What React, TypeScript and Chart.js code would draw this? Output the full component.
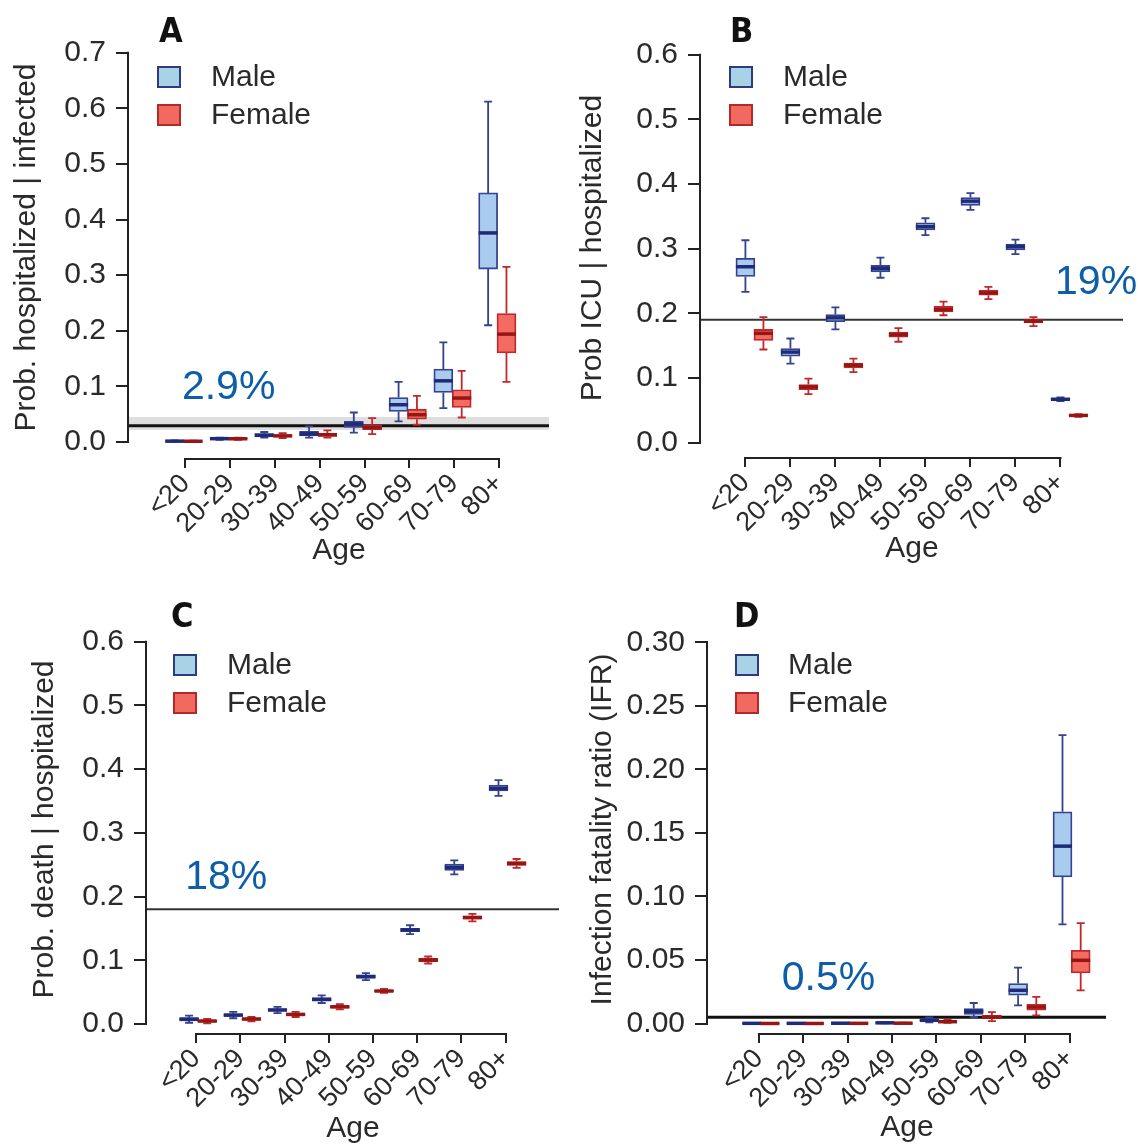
import { useEffect, useRef } from "react";
import { Chart, registerables } from "chart.js";

Chart.register(...registerables);

const FONT = "'Liberation Sans', Arial, Helvetica, sans-serif";
const TEXT = "#2a2a2a";

const ageGroups = ["<20", "20-29", "30-39", "40-49", "50-59", "60-69", "70-79", "80+"];

// Each entry: [lower whisker, Q1, median, Q3, upper whisker]
const hospMale = [
  [0.0005, 0.001, 0.0015, 0.002, 0.0028],
  [0.004, 0.005, 0.006, 0.007, 0.008],
  [0.008, 0.01, 0.012, 0.015, 0.018],
  [0.008, 0.011, 0.0145, 0.019, 0.028],
  [0.017, 0.026, 0.032, 0.037, 0.053],
  [0.037, 0.055, 0.067, 0.08, 0.108],
  [0.061, 0.089, 0.11, 0.131, 0.179],
  [0.21, 0.311, 0.376, 0.448, 0.612],
];
const hospFemale = [
  [0.0005, 0.001, 0.0013, 0.0018, 0.0025],
  [0.004, 0.005, 0.0058, 0.0068, 0.0078],
  [0.007, 0.009, 0.011, 0.013, 0.016],
  [0.008, 0.01, 0.013, 0.016, 0.021],
  [0.014, 0.022, 0.026, 0.031, 0.043],
  [0.031, 0.041, 0.049, 0.059, 0.083],
  [0.044, 0.062, 0.079, 0.094, 0.128],
  [0.108, 0.16, 0.194, 0.231, 0.315],
];

const icuMale = [
  [0.233, 0.257, 0.272, 0.285, 0.313],
  [0.122, 0.1336, 0.14, 0.1455, 0.161],
  [0.175, 0.187, 0.193, 0.198, 0.209],
  [0.255, 0.264, 0.269, 0.274, 0.286],
  [0.321, 0.329, 0.334, 0.34, 0.347],
  [0.36, 0.367, 0.3735, 0.379, 0.386],
  [0.2915, 0.298, 0.303, 0.307, 0.314],
  [0.064, 0.0655, 0.067, 0.0685, 0.07],
];
const icuFemale = [
  [0.144, 0.158, 0.169, 0.175, 0.194],
  [0.075, 0.082, 0.086, 0.0898, 0.099],
  [0.109, 0.1155, 0.1197, 0.123, 0.13],
  [0.156, 0.163, 0.167, 0.171, 0.177],
  [0.197, 0.202, 0.206, 0.211, 0.218],
  [0.222, 0.228, 0.2316, 0.236, 0.241],
  [0.18, 0.185, 0.188, 0.191, 0.194],
  [0.04, 0.041, 0.042, 0.043, 0.044],
];

const deathMale = [
  [0.002, 0.005, 0.0074, 0.01, 0.013],
  [0.009, 0.012, 0.014, 0.016, 0.019],
  [0.017, 0.02, 0.022, 0.024, 0.027],
  [0.033, 0.036, 0.0388, 0.041, 0.045],
  [0.069, 0.072, 0.0743, 0.077, 0.08],
  [0.141, 0.145, 0.1476, 0.15, 0.155],
  [0.235, 0.241, 0.246, 0.251, 0.257],
  [0.358, 0.366, 0.37, 0.375, 0.383],
];
const deathFemale = [
  [0.001, 0.003, 0.0047, 0.006, 0.008],
  [0.004, 0.006, 0.0078, 0.0095, 0.011],
  [0.011, 0.013, 0.015, 0.017, 0.019],
  [0.023, 0.025, 0.027, 0.029, 0.031],
  [0.049, 0.0505, 0.0518, 0.053, 0.055],
  [0.095, 0.098, 0.1005, 0.103, 0.106],
  [0.161, 0.165, 0.167, 0.17, 0.173],
  [0.245, 0.249, 0.252, 0.255, 0.259],
];

const ifrMale = [
  [0, 0.0001, 0.0002, 0.0003, 0.0005],
  [0, 0.0001, 0.0002, 0.0003, 0.0005],
  [0.0001, 0.0002, 0.0003, 0.0004, 0.0006],
  [0.0002, 0.0004, 0.0006, 0.0008, 0.001],
  [0.001, 0.0018, 0.0026, 0.0035, 0.0048],
  [0.0052, 0.0073, 0.0097, 0.0118, 0.0162],
  [0.0144, 0.0223, 0.0262, 0.0315, 0.044],
  [0.078, 0.1154, 0.1396, 0.1666, 0.227],
];
const ifrFemale = [
  [0, 0.0001, 0.0001, 0.0002, 0.0003],
  [0, 0.0001, 0.0001, 0.0002, 0.0004],
  [0.0001, 0.0002, 0.0002, 0.0003, 0.0005],
  [0.0001, 0.0002, 0.0003, 0.0005, 0.0007],
  [0.0005, 0.001, 0.0015, 0.002, 0.003],
  [0.002, 0.004, 0.005, 0.0065, 0.009],
  [0.0065, 0.0105, 0.013, 0.0152, 0.021],
  [0.0262, 0.0398, 0.0498, 0.0577, 0.079],
];

const hospTicks = [0, 0.1, 0.2, 0.3, 0.4, 0.5, 0.6, 0.7];
const icuTicks = [0, 0.1, 0.2, 0.3, 0.4, 0.5, 0.6];
const deathTicks = [0, 0.1, 0.2, 0.3, 0.4, 0.5, 0.6];
const ifrTicks = [0, 0.05, 0.1, 0.15, 0.2, 0.25, 0.3];

// Overall estimates (all ages, both sexes)
const hospOverall = 0.029;
const hospOverallBand = [0.0216, 0.045];
const icuOverall = 0.19;
const deathOverall = 0.18;
const ifrOverall = 0.005;

const sexLabels = ["Male", "Female"];

const MALE = { fill: "#a9cbee", border: "#34428f", median: "#1f2a78", swatch: "#a8d3e6", swatchBorder: "#2f3a80" };
const FEMALE = { fill: "#f26c61", border: "#c0282a", median: "#961616", swatch: "#f26a5f", swatchBorder: "#b02a2a" };

type PanelSpec = {
  letter: string;
  yTitle: string;
  male: number[][];
  female: number[][];
  yTicks: number[];
  decimals: number;
  overall: number;
  band?: number[];
  overallLabel: string;
  overallWidth: number;
  overallColor: string;
  labelAt: { x: number; y: number };
  frame: { left: number; top: number; w: number; h: number };
  area: { left: number; right: number; top: number; bottom: number };
  yRange: [number, number];
  xRange: [number, number];
  offsets: [number, number];
  yTitlePad: number;
  xTitlePad: number;
  legend: { x: number; y: number; textX: number };
  letterPos: { x: number; y: number };
};

const panels: PanelSpec[] = [
  {
    letter: "A",
    yTitle: "Prob. hospitalized | infected",
    male: hospMale,
    female: hospFemale,
    yTicks: hospTicks,
    decimals: 1,
    overall: hospOverall,
    band: hospOverallBand,
    overallLabel: "2.9%",
    overallWidth: 3,
    overallColor: "#111",
    labelAt: { x: -0.08, y: 0.097 },
    frame: { left: 0, top: 0, w: 570, h: 575 },
    area: { left: 129, right: 549, top: 37, bottom: 458 },
    yRange: [-0.0288, 0.7284],
    xRange: [-1.262, 8.12],
    offsets: [-0.24, 0.17],
    yTitlePad: 12,
    xTitlePad: 9,
    legend: { x: 158, y: 67, textX: 211 },
    letterPos: { x: 159, y: 42 },
  },
  {
    letter: "B",
    yTitle: "Prob ICU | hospitalized",
    male: icuMale,
    female: icuFemale,
    yTicks: icuTicks,
    decimals: 1,
    overall: icuOverall,
    overallLabel: "19%",
    overallWidth: 2,
    overallColor: "#333",
    labelAt: { x: 6.88, y: 0.2466 },
    frame: { left: 570, top: 0, w: 568, h: 575 },
    area: { left: 131, right: 553, top: 39, bottom: 457 },
    yRange: [-0.0223, 0.6243],
    xRange: [-0.987, 8.39],
    offsets: [0, 0.4],
    yTitlePad: 7.7,
    xTitlePad: 11,
    legend: { x: 160, y: 67, textX: 213 },
    letterPos: { x: 160, y: 42 },
  },
  {
    letter: "C",
    yTitle: "Prob. death | hospitalized",
    male: deathMale,
    female: deathFemale,
    yTicks: deathTicks,
    decimals: 1,
    overall: deathOverall,
    overallLabel: "18%",
    overallWidth: 2,
    overallColor: "#333",
    labelAt: { x: -0.247, y: 0.229 },
    frame: { left: 0, top: 575, w: 570, h: 570 },
    area: { left: 147, right: 559, top: 51, bottom: 458 },
    yRange: [-0.01413, 0.6248],
    xRange: [-1.112, 8.209],
    offsets: [-0.16, 0.25],
    yTitlePad: 29.5,
    xTitlePad: 1,
    legend: { x: 174, y: 80, textX: 227 },
    letterPos: { x: 171, y: 52 },
  },
  {
    letter: "D",
    yTitle: "Infection fatality ratio (IFR)",
    male: ifrMale,
    female: ifrFemale,
    yTicks: ifrTicks,
    decimals: 2,
    overall: ifrOverall,
    overallLabel: "0.5%",
    overallWidth: 3,
    overallColor: "#111",
    labelAt: { x: 0.516, y: 0.0357 },
    frame: { left: 570, top: 575, w: 568, h: 570 },
    area: { left: 138, right: 536, top: 51, bottom: 458 },
    yRange: [-0.0074, 0.3128],
    xRange: [-1.146, 7.82],
    offsets: [-0.16, 0.25],
    yTitlePad: 17.7,
    xTitlePad: 2,
    legend: { x: 166, y: 80, textX: 218 },
    letterPos: { x: 164, y: 52 },
  },
];

function makeDecor(spec: PanelSpec) {
  return {
    id: "panelDecor",
    beforeDatasetsDraw(chart: any) {
      const { ctx, chartArea, scales } = chart;
      const x = scales.x;
      const y = scales.y;
      ctx.save();
      if (spec.band) {
        const yTop = y.getPixelForValue(spec.band[1]);
        const yBot = y.getPixelForValue(spec.band[0]);
        ctx.fillStyle = "rgba(200,200,200,0.6)";
        ctx.fillRect(chartArea.left, yTop, chartArea.right - chartArea.left, yBot - yTop);
      }
      const yr = y.getPixelForValue(spec.overall);
      ctx.strokeStyle = spec.overallColor;
      ctx.lineWidth = spec.overallWidth;
      ctx.beginPath();
      ctx.moveTo(chartArea.left, yr);
      ctx.lineTo(chartArea.right, yr);
      ctx.stroke();

      // axis lines spanning only the first to the last tick
      ctx.strokeStyle = "#222";
      ctx.lineWidth = 2;
      ctx.beginPath();
      ctx.moveTo(x.getPixelForValue(0) - 1, chartArea.bottom + 1);
      ctx.lineTo(x.getPixelForValue(ageGroups.length - 1) + 1, chartArea.bottom + 1);
      ctx.stroke();
      ctx.beginPath();
      ctx.moveTo(chartArea.left - 1, y.getPixelForValue(spec.yTicks[0]) + 1);
      ctx.lineTo(chartArea.left - 1, y.getPixelForValue(spec.yTicks[spec.yTicks.length - 1]) - 1);
      ctx.stroke();
      ctx.restore();
    },
    afterDatasetsDraw(chart: any) {
      const { ctx, scales } = chart;
      const y = scales.y;
      ctx.save();
      chart.data.datasets.forEach((ds: any, di: number) => {
        const meta = chart.getDatasetMeta(di);
        meta.data.forEach((el: any, i: number) => {
          const s = ds.stats[i];
          const cx = el.x;
          const w = el.width;
          const cap = 8;
          ctx.strokeStyle = ds.borderColor;
          ctx.lineWidth = 1.8;
          const pMin = y.getPixelForValue(s[0]);
          const pQ1 = y.getPixelForValue(s[1]);
          const pQ3 = y.getPixelForValue(s[3]);
          const pMax = y.getPixelForValue(s[4]);
          ctx.beginPath();
          ctx.moveTo(cx, pQ3);
          ctx.lineTo(cx, pMax);
          ctx.moveTo(cx - cap / 2, pMax);
          ctx.lineTo(cx + cap / 2, pMax);
          ctx.moveTo(cx, pQ1);
          ctx.lineTo(cx, pMin);
          ctx.moveTo(cx - cap / 2, pMin);
          ctx.lineTo(cx + cap / 2, pMin);
          ctx.stroke();
          ctx.strokeStyle = ds.medianColor;
          ctx.lineWidth = 3.5;
          const pMed = y.getPixelForValue(s[2]);
          ctx.beginPath();
          ctx.moveTo(cx - w / 2, pMed);
          ctx.lineTo(cx + w / 2, pMed);
          ctx.stroke();
        });
      });
      ctx.restore();
    },
    afterDraw(chart: any) {
      const { ctx, scales } = chart;
      ctx.save();
      // panel letter
      ctx.fillStyle = "#111";
      ctx.font = "bold 34px 'Liberation Sans Narrow', 'DejaVu Sans Condensed', sans-serif";
      ctx.textAlign = "left";
      ctx.textBaseline = "alphabetic";
      ctx.fillText(spec.letter, spec.letterPos.x, spec.letterPos.y);

      // legend
      const colors = [MALE, FEMALE];
      ctx.font = `30px ${FONT}`;
      ctx.textBaseline = "middle";
      sexLabels.forEach((lab, k) => {
        const top = spec.legend.y + k * 38;
        ctx.fillStyle = colors[k].swatch;
        ctx.fillRect(spec.legend.x, top, 22, 20);
        ctx.strokeStyle = colors[k].swatchBorder;
        ctx.lineWidth = 2;
        ctx.strokeRect(spec.legend.x, top, 22, 20);
        ctx.fillStyle = TEXT;
        ctx.fillText(lab, spec.legend.textX, top + 11);
      });

      // overall estimate label
      ctx.fillStyle = "#0d5ea6";
      ctx.font = `41px ${FONT}`;
      ctx.textBaseline = "middle";
      ctx.fillText(
        spec.overallLabel,
        scales.x.getPixelForValue(spec.labelAt.x),
        scales.y.getPixelForValue(spec.labelAt.y)
      );
      ctx.restore();
    },
  };
}

function Panel({ spec }: { spec: PanelSpec }) {
  const ref = useRef<HTMLCanvasElement>(null);
  useEffect(() => {
    if (!ref.current) return;
    const { frame, area } = spec;
    const mk = (stats: number[][], off: number, c: typeof MALE, label: string) => ({
      label,
      data: stats.map((s, i) => ({ x: i + off, y: [s[1], s[3]] })),
      stats,
      medianColor: c.median,
      backgroundColor: c.fill,
      borderColor: c.border,
      borderWidth: 1.8,
      borderSkipped: false,
      barThickness: 19,
      grouped: false,
    });
    const chart = new Chart(ref.current, {
      type: "bar",
      data: {
        datasets: [
          mk(spec.male, spec.offsets[0], MALE, sexLabels[0]),
          mk(spec.female, spec.offsets[1], FEMALE, sexLabels[1]),
        ] as any,
      },
      options: {
        animation: false,
        responsive: false,
        maintainAspectRatio: false,
        devicePixelRatio: 1,
        events: [],
        layout: {
          padding: { left: 0, top: area.top, right: frame.w - area.right, bottom: 0 },
        },
        plugins: { legend: { display: false }, tooltip: { enabled: false } },
        scales: {
          x: {
            type: "linear",
            min: spec.xRange[0],
            max: spec.xRange[1],
            offset: false,
            border: { display: false },
            grid: { display: true, drawOnChartArea: false, drawTicks: true, tickLength: 10, color: "#222", lineWidth: 2, offset: false },
            afterBuildTicks: (scale: any) => {
              scale.ticks = ageGroups.map((_, i) => ({ value: i }));
            },
            afterFit: (scale: any) => {
              scale.height = frame.h - area.bottom;
            },
            ticks: {
              autoSkip: false,
              minRotation: 45,
              maxRotation: 45,
              padding: 0,
              color: TEXT,
              font: { family: FONT, size: 27 },
              callback: (_v: any, i: number) => ageGroups[i],
            },
            title: {
              display: true,
              text: "Age",
              color: TEXT,
              font: { family: FONT, size: 30, lineHeight: 1 },
              padding: { top: 0, bottom: spec.xTitlePad },
            },
          },
          y: {
            type: "linear",
            min: spec.yRange[0],
            max: spec.yRange[1],
            border: { display: false },
            grid: { display: true, drawOnChartArea: false, drawTicks: true, tickLength: 13, color: "#222", lineWidth: 2 },
            afterBuildTicks: (scale: any) => {
              scale.ticks = spec.yTicks.map((v) => ({ value: v }));
            },
            afterFit: (scale: any) => {
              scale.width = area.left;
            },
            ticks: {
              padding: 10,
              color: TEXT,
              font: { family: FONT, size: 30 },
              callback: (v: any) => Number(v).toFixed(spec.decimals),
            },
            title: {
              display: true,
              text: spec.yTitle,
              color: TEXT,
              font: { family: FONT, size: 30, lineHeight: 1 },
              padding: { top: spec.yTitlePad, bottom: 0 },
            },
          },
        },
      } as any,
      plugins: [makeDecor(spec)],
    });
    return () => chart.destroy();
  }, [spec]);

  return (
    <div style={{ position: "absolute", left: spec.frame.left, top: spec.frame.top, width: spec.frame.w, height: spec.frame.h }}>
      <canvas ref={ref} width={spec.frame.w} height={spec.frame.h} style={{ display: "block" }} />
    </div>
  );
}

export default function App() {
  return (
    <div style={{ position: "absolute", left: 0, top: 0, width: 1138, height: 1145, background: "#fff", overflow: "hidden" }}>
      {panels.map((p) => (
        <Panel key={p.letter} spec={p} />
      ))}
    </div>
  );
}
